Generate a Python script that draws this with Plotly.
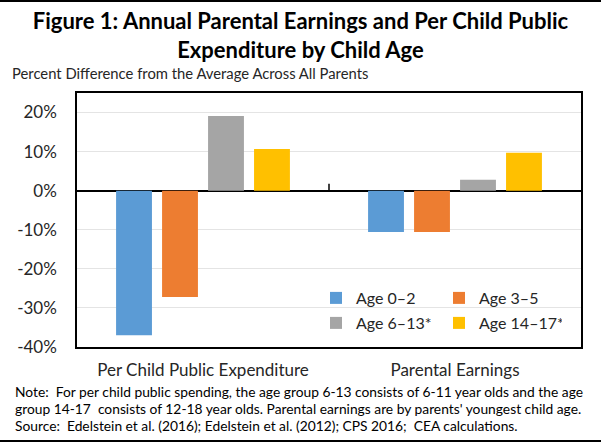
import plotly.graph_objects as go

categories = ["Per Child Public Expenditure", "Parental Earnings"]
series_names = ["Age 0\u20132", "Age 3\u20135", "Age 6\u201313*", "Age 14\u201317*"]
age_0_2 = [-37.0, -10.6]
age_3_5 = [-27.2, -10.6]
age_6_13 = [19.1, 2.8]
age_14_17 = [10.7, 9.7]
colors = ["#5B9BD5", "#ED7D31", "#A5A5A5", "#FFC000"]
tick_vals = [20, 10, 0, -10, -20, -30, -40]
tick_text = ["20%", "10%", "0%", "-10%", "-20%", "-30%", "-40%"]

title_text = "<b>Figure 1: Annual Parental Earnings and Per Child Public<br>Expenditure by Child Age</b>"
subtitle_text = "Percent Difference from the Average Across All Parents"
note_lines = [
    "Note:  For per child public spending, the age group 6-13 consists of 6-11 year olds and the age",
    "group 14-17  consists of 12-18 year olds. Parental earnings are by parents' youngest child age.",
    "Source:  Edelstein et al. (2016); Edelstein et al. (2012); CPS 2016;  CEA calculations.",
]

FONT = "Lato, Calibri, Carlito, sans-serif"
W, H = 601, 445
ML, MR, MT, MB = 77, 20, 93, 98
PW = W - ML - MR
PH = H - MT - MB

fig = go.Figure()
all_series = [age_0_2, age_3_5, age_6_13, age_14_17]
legends = ["legend", "legend", "legend2", "legend2"]
for name, vals, col, lg in zip(series_names, all_series, colors, legends):
    fig.add_trace(go.Bar(x=categories, y=vals, name=name, marker_color=col,
                         marker_line_width=0, legend=lg))

def py(p):
    return (H - MB - p) / PH

def px(p):
    return (p - ML) / PW

legend_common = dict(orientation="h", x=px(316), xanchor="left", yanchor="middle",
                     entrywidth=78, entrywidthmode="pixels",
                     bgcolor="rgba(0,0,0,0)", font=dict(size=16, color="#262626"),
                     itemwidth=30, traceorder="normal")

fig.update_layout(
    width=W, height=H,
    margin=dict(l=ML, r=MR, t=MT, b=MB, autoexpand=False),
    paper_bgcolor="white", plot_bgcolor="white",
    font=dict(family=FONT, size=15, color="#262626"),
    barmode="group", bargap=0.27, bargroupgap=0.22,
    title=dict(text=title_text, x=0.5, xanchor="center", y=1 - 29 / H, yanchor="top",
               font=dict(family=FONT, size=22, color="#000000")),
    legend=dict(y=py(298), **legend_common),
    legend2=dict(y=py(323), **legend_common),
    showlegend=True,
)

fig.update_xaxes(showline=True, linecolor="black", linewidth=1.5, mirror=True,
                 ticks="", ticklabelstandoff=7, tickfont=dict(size=17, color="#262626"))
fig.update_yaxes(range=[-40, 25], tickvals=tick_vals, ticktext=tick_text,
                 showline=True, linecolor="black", linewidth=1.5, mirror=True,
                 showgrid=True, gridcolor="#E4E4E4", gridwidth=1,
                 zeroline=True, zerolinecolor="black", zerolinewidth=2,
                 ticks="", ticklabelstandoff=15, tickfont=dict(size=17, color="#262626"))

# small category-boundary tick on the zero line
fig.add_shape(type="line", xref="x", yref="y", x0=0.5, x1=0.5, y0=0, y1=1.8,
              line=dict(color="black", width=1.5))
# top and bottom rules of the figure
for yp in [1, 441]:
    fig.add_shape(type="line", xref="paper", yref="paper", x0=-1, x1=2,
                  y0=py(yp), y1=py(yp), line=dict(color="black", width=2))

fig.add_annotation(text=subtitle_text, xref="paper", yref="paper",
                   x=px(10), xanchor="left", y=py(73), yanchor="middle",
                   showarrow=False, font=dict(size=14.8, color="#262626"))
for i, line in enumerate(note_lines):
    fig.add_annotation(text=line, xref="paper", yref="paper",
                       x=px(13), xanchor="left", y=py(391 + 17 * i),
                       yanchor="middle", showarrow=False,
                       font=dict(size=13.8, color="#000000"))

fig.write_html("out.html")
